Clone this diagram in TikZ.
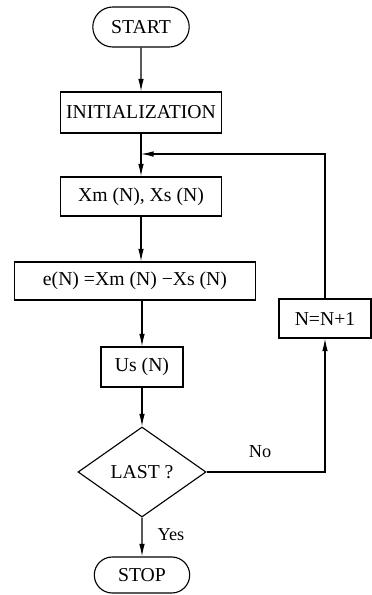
\documentclass[tikz,border=0pt]{standalone}
\usepackage{fontspec}
\setmainfont{Liberation Serif}
\usetikzlibrary{shapes.misc,shapes.geometric,arrows.meta}

\begin{document}
\begin{tikzpicture}[x=0.025cm, y=-0.025cm, line width=0.8pt,
    font=\fontsize{14}{16}\selectfont,
    flow/.style={-{Latex[length=9pt,width=4pt]}},
    box/.style={draw, rectangle, inner sep=2pt},
    term/.style={draw, rounded rectangle, inner sep=2pt},
    test/.style={draw, diamond, aspect=1.4, inner sep=1pt},
    tag/.style={font=\fontsize{13}{15}\selectfont}]

    \useasboundingbox (0,0) rectangle (371,595);

    % Terminals
    \node[term, minimum width=2.55cm, minimum height=1cm] (start) at (141,27) {START};
    \node[term, minimum width=2.525cm, minimum height=0.9cm] (stop) at (142,575) {STOP};

    % Process boxes
    \node[box, minimum width=4.025cm, minimum height=1.025cm] (init) at (141,112.5) {INITIALIZATION};
    \node[box, minimum width=4.025cm, minimum height=0.975cm] (xm) at (141,196.5) {Xm (N), Xs (N)};
    \node[box, minimum width=6.025cm, minimum height=0.95cm] (err) at (135,281) {e(N) =Xm (N) −Xs (N)};
    \node[box, minimum width=2.05cm, minimum height=1cm] (us) at (142,367) {Us (N)};
    \node[box, minimum width=2.3cm, minimum height=0.975cm] (incr) at (325,318.5) {N=N+1};

    % Decision
    \node[test, minimum width=3.2cm, minimum height=2.25cm] (last) at (142,472) {LAST ?};

    % Labels
    \node[tag] (no) at (260,452) {No};
    \node[tag] (yes) at (171,535) {Yes};

    % Main flow
    \coordinate (join) at (141,154);
    \draw[flow] (start) -- (init);
    \draw[flow] (init) -- (xm);
    \draw[flow] (xm.south) -- (xm.south |- err.north);
    \draw[flow] (us.north |- err.south) -- (us.north);
    \draw[flow] (us) -- (last);
    \draw[flow] (last) -- (stop);

    % Loop back
    \draw[flow] (last.east) -| (incr.south);
    \draw[flow] (incr.north) |- (join);
\end{tikzpicture}
\end{document}
